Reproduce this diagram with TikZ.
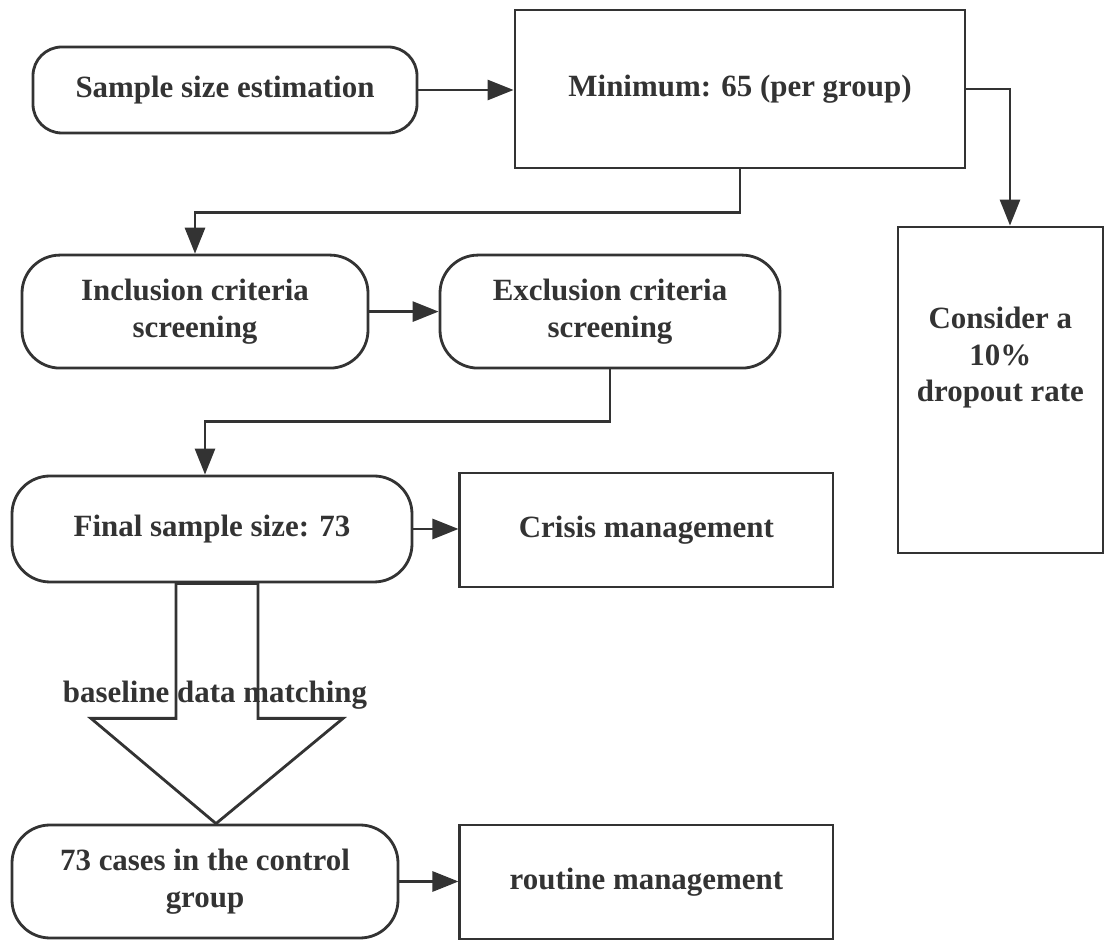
\documentclass[tikz,border=0pt]{standalone}
\usepackage{fontspec}
\setmainfont{Liberation Serif}[BoldFont={Liberation Serif Bold}]
\usetikzlibrary{arrows.meta,calc}
\colorlet{inkcolor}{black!80}
\tikzset{
  pill box/.style={
    draw=inkcolor,
    line width=2pt,
    rounded corners=0.95cm,
    align=center,
    text=inkcolor,
    inner sep=0pt
  },
  plain box/.style={
    draw=inkcolor,
    line width=2pt,
    align=center,
    text=inkcolor,
    inner sep=0pt
  },
  flow arrow/.style={
    inkcolor,
    line width=2pt,
    -{Triangle[length=6.5mm,width=5mm]}
  },
  block arrow/.style={inkcolor, line width=2pt, line join=miter}
}

\begin{document}
\begin{tikzpicture}[font=\fontsize{22}{26}\selectfont\bfseries]

  \useasboundingbox (0,0) rectangle (27.65,23.5);

  % Sample size estimation and minimum per group.
  \node[pill box, rounded corners=0.72cm, minimum width=9.6cm,
    minimum height=2.15cm] (estimate) at (5.625,21.25)
    {Sample size estimation};
  \node[plain box, minimum width=11.25cm, minimum height=3.95cm]
    (minimum) at (18.5,21.275) {Minimum: 65 (per group)};
  \draw[flow arrow] (estimate.east) -- (estimate.east -| minimum.west);

  % Dropout allowance.
  \node[plain box, minimum width=5.125cm, minimum height=8.15cm]
    (dropout) at (25.01,13.75) {};
  \node[align=center, text=inkcolor] (dropouttext) at (25.01,14.55)
    {Consider a\\10\%\\dropout rate};
  \draw[flow arrow] (minimum.east) -| ([xshift=0.24cm]dropout.north);

  % Screening steps.
  \node[pill box, minimum width=8.65cm, minimum height=2.825cm]
    (inclusion) at (4.875,15.71) {Inclusion criteria\\screening};
  \node[pill box, minimum width=8.5cm, minimum height=2.825cm]
    (exclusion) at (15.25,15.71) {Exclusion criteria\\screening};
  \draw[flow arrow] (minimum.south) -- ++(0,-1.075) -| (inclusion.north);
  \draw[flow arrow] (inclusion) -- (exclusion);

  % Final sample and crisis management.
  \node[pill box, minimum width=10cm, minimum height=2.65cm]
    (final) at (5.3,10.275) {Final sample size: 73};
  \node[plain box, minimum width=9.325cm, minimum height=2.85cm]
    (crisis) at (16.16,10.25) {Crisis management};
  \draw[flow arrow] (exclusion.south) -- ++(0,-1.3)
    -| ([xshift=-0.175cm]final.north);
  \draw[flow arrow] (final.east) -- (final.east -| crisis.west);

  % Control group and routine management.
  \node[pill box, minimum width=9.65cm, minimum height=2.825cm]
    (cases) at (5.125,1.4625) {73 cases in the control\\group};
  \node[plain box, minimum width=9.325cm, minimum height=2.85cm]
    (routine) at (16.16,1.45) {routine management};
  \draw[flow arrow] (cases.east) -- (cases.east -| routine.west);

  % Matching step as a hollow block arrow.
  \coordinate (shafttop) at ($(final.south)+(0.125,0)$);
  \coordinate (tip) at ($(cases.north)+(0.275,0)$);
  \draw[block arrow] ($(shafttop)+(-1.025,0)$) -- ++(0,-3.375)
    -- ++(-2.125,0) -- (tip) -- ($(shafttop)+(3.15,-3.375)$)
    -- ++(-2.125,0) -- ($(shafttop)+(1.025,0)$) -- cycle;
  \node[text=inkcolor] (matchlabel) at (5.375,6.125) {baseline data matching};

\end{tikzpicture}
\end{document}
